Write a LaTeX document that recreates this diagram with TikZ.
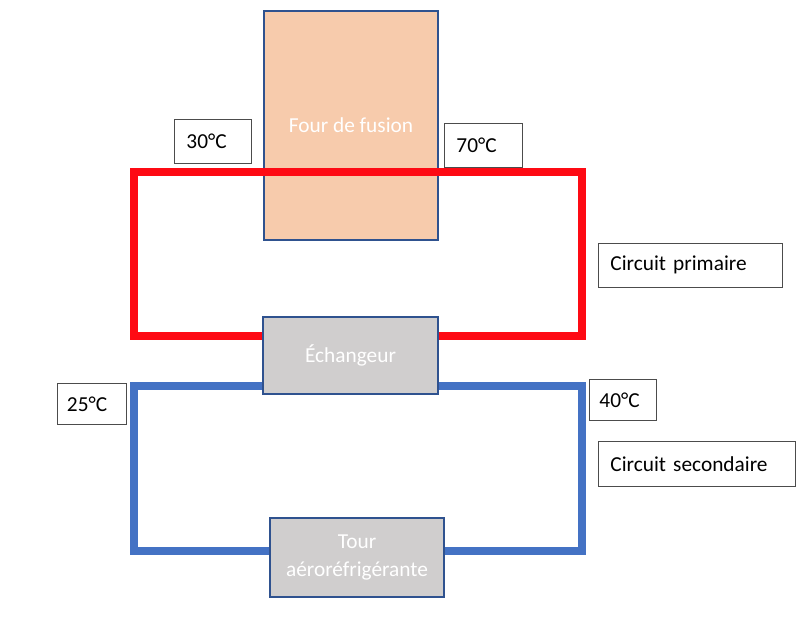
\documentclass[tikz,border=0pt]{standalone}
\usepackage{fontspec}
\setmainfont{Carlito}
\usetikzlibrary{positioning}

\definecolor{loopred}{HTML}{FE0A14}
\definecolor{loopblue}{HTML}{4472C4}
\definecolor{boxblue}{HTML}{2F528F}
\definecolor{furnacefill}{HTML}{F7CBAC}
\definecolor{unitgray}{HTML}{D0CECE}

\pgfdeclarelayer{furnace}
\pgfdeclarelayer{pipes}
\pgfsetlayers{furnace,pipes,main}

\begin{document}
\begin{tikzpicture}[
    x=0.75pt, y=-0.75pt,
    every node/.style={font=\fontsize{16}{21.5}\selectfont},
    unit/.style={rectangle, draw=boxblue, line width=1.2pt, fill=unitgray, text=white, align=center, inner sep=0pt},
    tag/.style={rectangle, draw=black!70, line width=0.7pt, fill=white, align=left, anchor=west, inner xsep=9pt, inner ysep=0pt, minimum height=33pt},
    primary/.style={draw=loopred, line width=6.3pt},
    secondary/.style={draw=loopblue, line width=6.3pt}
]
\useasboundingbox (0,0) rectangle (810,626);

% ============ UNITS ============
\begin{pgfonlayer}{furnace}
\node[unit, fill=furnacefill, minimum width=130.5pt, minimum height=171.75pt] (four) at (351,125.5) {Four de fusion};
\end{pgfonlayer}

\node[unit, minimum width=131.25pt, minimum height=57.75pt] (echangeur) at (350.5,355.5) {Échangeur};
\node[unit, minimum width=130.5pt, minimum height=59.25pt] (tour) at (357,557.5) {Tour\\aéroréfrigérante};

% ============ LOOPS ============
\coordinate (rednw) at (134,172);
\coordinate (redse) at (582,336);
\coordinate (bluenw) at (134,386);
\coordinate (bluese) at (582,551);

\begin{pgfonlayer}{pipes}
% primary circuit
\draw[primary] (echangeur.west |- redse) -| (rednw) -| (redse) -- (echangeur.east |- redse);
% secondary circuit
\draw[secondary] (tour.west |- bluese) -| (bluenw) -- (echangeur.west |- bluenw);
\draw[secondary] (echangeur.east |- bluenw) -| (bluese) -- (tour.east |- bluese);
\end{pgfonlayer}

% ============ LABELS ============
\node[tag, text width=39.75pt] (t30) at (174,141) {30°C};
\node[tag, text width=40.5pt] (t70) at (444,145.5) {70°C};
\node[tag, text width=120pt] (primaire) at (598,265) {Circuit primaire};
\node[tag, text width=35.25pt, minimum height=31pt, inner xsep=7.5pt] (t40) at (589,400) {40°C};
\node[tag, text width=129.75pt, minimum height=34pt] (secondaire) at (598,464) {Circuit secondaire};
\node[tag, text width=36.75pt, minimum height=31pt, inner xsep=7.5pt] (t25) at (56.5,404) {25°C};

\end{tikzpicture}
\end{document}
